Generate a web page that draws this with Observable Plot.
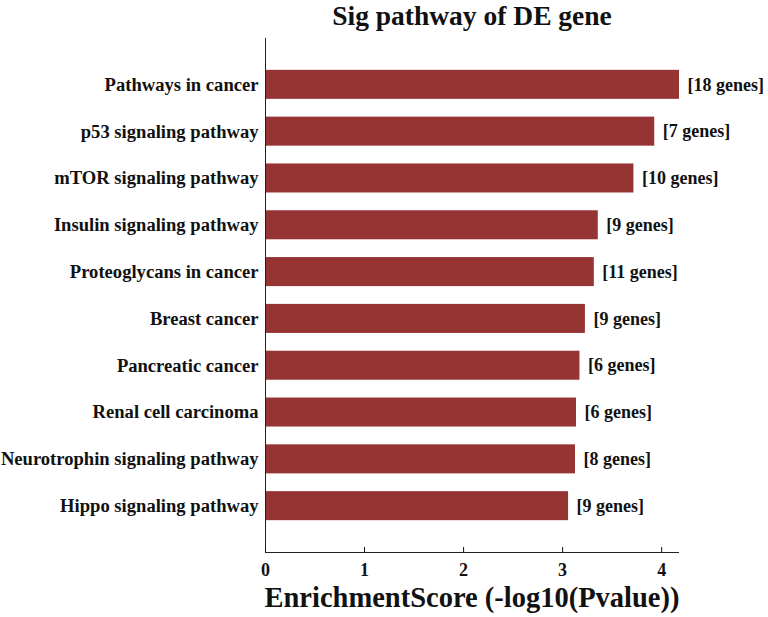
<!DOCTYPE html>
<html>
<head>
<meta charset="utf-8">
<script src="https://cdn.jsdelivr.net/npm/d3@7"></script>
<script src="https://cdn.jsdelivr.net/npm/@observablehq/plot@0.6"></script>
<style>
  body { margin: 0; background: #fff; }
  #chart { width: 768px; height: 617px; }
</style>
</head>
<body>
<div id="chart"></div>
<script>
const pathways = [
  "Pathways in cancer",
  "p53 signaling pathway",
  "mTOR signaling pathway",
  "Insulin signaling pathway",
  "Proteoglycans in cancer",
  "Breast cancer",
  "Pancreatic cancer",
  "Renal cell carcinoma",
  "Neurotrophin signaling pathway",
  "Hippo signaling pathway"
];
const scores = [4.18, 3.93, 3.72, 3.36, 3.32, 3.23, 3.175, 3.14, 3.13, 3.06];
const geneCounts = [18, 7, 10, 9, 11, 9, 6, 6, 8, 9];
const xTicks = [0, 1, 2, 3, 4];

const data = pathways.map((p, i) => ({
  pathway: p,
  score: scores[i],
  label: `[${geneCounts[i]} genes]`
}));

const font = "'Liberation Serif', 'Times New Roman', serif";

const chart = Plot.plot({
  width: 768,
  height: 617,
  marginLeft: 265,
  marginRight: 90,
  marginTop: 38,
  marginBottom: 65,
  style: { fontFamily: font, fontWeight: "bold", background: "#fff", overflow: "visible" },
  x: { domain: [0, 4.17], label: null },
  y: { domain: pathways, paddingInner: 0.38, paddingOuter: 0.68, round: false, label: null },
  marks: [
    Plot.barX(data, { x: "score", y: "pathway", fill: "#963434" }),
    Plot.text(data, {
      x: "score", y: "pathway", text: "label",
      textAnchor: "start", dx: 8, fontSize: 18, fontWeight: "bold", fill: "#111"
    }),
    Plot.frame({ anchor: "left", stroke: "#222" }),
    Plot.frame({ anchor: "bottom", stroke: "#222" }),
    Plot.axisY({ tickSize: 0, tickPadding: 7, fontSize: 18.6, fontWeight: "bold", label: null, color: "#111" }),
    Plot.axisX({ ticks: xTicks, tickFormat: d3.format("d"), tickSize: -5, tickPadding: 16, fontSize: 18, fontWeight: "bold", label: null, color: "#111" }),
    Plot.text(["EnrichmentScore (-log10(Pvalue))"], {
      frameAnchor: "bottom", lineAnchor: "middle", dy: 45, fontSize: 28.5, fontWeight: "bold", fill: "#111"
    }),
    Plot.text(["Sig pathway of DE gene"], {
      frameAnchor: "top", lineAnchor: "middle", dy: -22, fontSize: 27.5, fontWeight: "bold", fill: "#111"
    })
  ]
});
document.getElementById("chart").appendChild(chart);
</script>
</body>
</html>
